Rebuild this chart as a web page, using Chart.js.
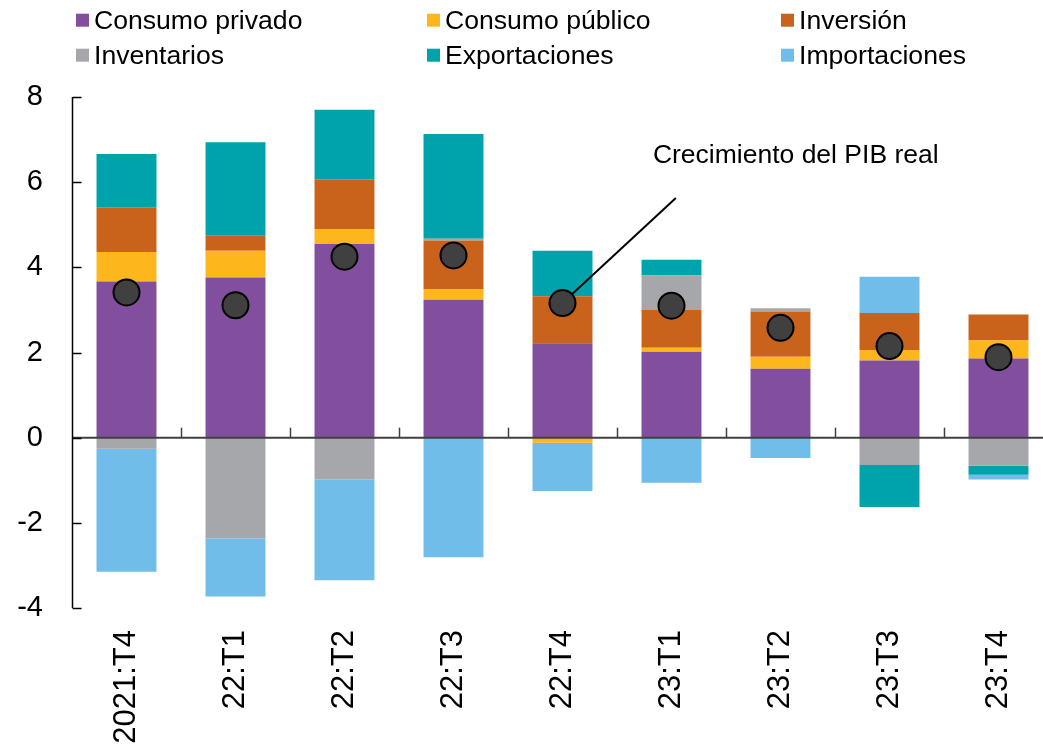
<!DOCTYPE html>
<html><head><meta charset="utf-8">
<script src="https://cdn.jsdelivr.net/npm/chart.js@4/dist/chart.umd.min.js"></script>
<style>
html,body{margin:0;padding:0;background:#fff;overflow:hidden;width:1043px;height:747px;}
#wrap{position:relative;width:1068px;height:747px;}
canvas{position:absolute;left:0;top:0;}
#legend{position:absolute;left:0;top:0;width:1043px;height:80px;font-family:"Liberation Sans",Arial,sans-serif;font-size:26.6px;color:#000;}
.item{position:absolute;display:flex;align-items:center;white-space:nowrap;line-height:1;transform:translateY(-50%);}
.box{width:13px;height:13px;margin-right:5px;flex:none;}
</style></head><body>
<div id="wrap"><canvas id="c" width="1068" height="747"></canvas><div id="legend"></div></div>
<script>
// ---- data ----
const categories = ['2021:T4','22:T1','22:T2','22:T3','22:T4','23:T1','23:T2','23:T3','23:T4'];
const consumoPrivado = [3.67, 3.76, 4.55, 3.24, 2.22, 2.02, 1.62, 1.81, 1.86];
const consumoPublico = [0.69, 0.63, 0.35, 0.25, -0.12, 0.09, 0.28, 0.25, 0.42];
const inversion      = [1.05, 0.35, 1.17, 1.14, 1.10, 0.89, 1.06, 0.87, 0.61];
const inventarios    = [-0.26, -2.37, -0.98, 0.04, -0.03, 0.81, 0.08, -0.64, -0.66];
const exportaciones  = [1.25, 2.20, 1.63, 2.46, 1.07, 0.37, 0, -0.99, -0.21];
const importaciones  = [-2.89, -1.36, -2.37, -2.81, -1.10, -1.06, -0.48, 0.85, -0.11];
const pibReal        = [3.41, 3.11, 4.25, 4.28, 3.16, 3.10, 2.58, 2.15, 1.89];
const yTicks = [-4, -2, 0, 2, 4, 6, 8];
const seriesNames = ['Consumo privado','Consumo público','Inversión','Inventarios','Exportaciones','Importaciones'];
const pibLabel = 'Crecimiento del PIB real';

// ---- style ----
const FONT = "'Liberation Sans', Arial, sans-serif";
const colors = ['#824F9E','#FDB71C','#C9621A','#A6A7AA','#00A3AB','#6FBDE8'];
const annotIndex = 4;          // point the callout refers to
const annotText = [6.14, 6.62]; // text centre (category units, value units)
const annotFrom = [5.04, 5.63]; // callout line start

const seriesData = [consumoPrivado, consumoPublico, inversion, inventarios, exportaciones, importaciones];
const barSets = seriesNames.map((n, i) => ({
  type: 'bar', label: n, data: seriesData[i], backgroundColor: colors[i],
  borderWidth: 0, stack: 'comp', barPercentage: 0.55, categoryPercentage: 1.0, order: 1
}));

const decor = {
  id: 'decor',
  beforeDatasetDraw(chart, args) {
    if (args.index !== 0) return;
    const {ctx, scales: {x, y}} = chart;
    const pt = chart.getDatasetMeta(0).data[annotIndex];
    ctx.save();
    ctx.strokeStyle = '#000'; ctx.lineWidth = 2;
    ctx.beginPath();
    ctx.moveTo(x.getPixelForValue(annotFrom[0]), y.getPixelForValue(annotFrom[1]));
    ctx.lineTo(pt.x, pt.y);
    ctx.stroke();
    ctx.restore();
  },
  afterDatasetsDraw(chart) {
    const {ctx, chartArea: a, scales: {x, y}} = chart;
    ctx.save();
    const y0 = y.getPixelForValue(0);
    ctx.strokeStyle = '#404040'; ctx.lineWidth = 2;
    ctx.beginPath(); ctx.moveTo(a.left, y0); ctx.lineTo(a.right, y0); ctx.stroke();
    ctx.lineWidth = 1.5;
    for (let i = 1; i < categories.length; i++) {
      const px = Math.round(x.getPixelForValue(i - 0.5)) + 0.5;
      ctx.beginPath(); ctx.moveTo(px, y0); ctx.lineTo(px, y0 - 10); ctx.stroke();
    }
    const lx = a.left + 0.5;
    ctx.strokeStyle = '#000'; ctx.lineWidth = 1.5;
    ctx.beginPath(); ctx.moveTo(lx, y.getPixelForValue(y.max)); ctx.lineTo(lx, y.getPixelForValue(y.min)); ctx.stroke();
    y.ticks.forEach(t => {
      const py = Math.round(y.getPixelForValue(t.value)) + 0.5;
      ctx.beginPath(); ctx.moveTo(lx, py); ctx.lineTo(lx + 9, py); ctx.stroke();
    });
    ctx.restore();
  },
  afterDraw(chart) {
    const {ctx, scales: {x, y}} = chart;
    ctx.save();
    ctx.fillStyle = '#000';
    ctx.font = "26.5px " + FONT;
    ctx.textAlign = 'center'; ctx.textBaseline = 'middle';
    ctx.fillText(pibLabel, x.getPixelForValue(annotText[0]), y.getPixelForValue(annotText[1]));
    ctx.restore();
  }
};

const chart = new Chart(document.getElementById('c'), {
  data: {
    labels: categories,
    datasets: [
      { type: 'line', label: pibLabel, data: pibReal, showLine: false, stack: 'pib', order: 0,
        pointRadius: 13, pointHoverRadius: 13, pointBackgroundColor: '#404040',
        pointBorderColor: '#000', pointBorderWidth: 2 },
      ...barSets
    ]
  },
  options: {
    responsive: false, animation: false, devicePixelRatio: 1,
    layout: { padding: { top: 97, right: 0, left: 0, bottom: 0 } },
    plugins: { legend: { display: false }, tooltip: { enabled: false } },
    scales: {
      x: {
        stacked: true, offset: true,
        grid: { display: false, drawTicks: false }, border: { display: false },
        ticks: { color: '#000', font: { family: FONT, size: 31 }, maxRotation: 90, minRotation: 90, padding: 22, autoSkip: false },
        afterFit(s) { s.height = 139; }
      },
      y: {
        stacked: true, min: -4, max: 8,
        afterBuildTicks(s) { s.ticks = yTicks.map(v => ({ value: v })); },
        grid: { display: false, drawTicks: false }, border: { display: false },
        ticks: { color: '#000', font: { family: FONT, size: 29 }, padding: 29 },
        afterFit(s) { s.width = 72; }
      }
    }
  },
  plugins: [decor]
});

const legend = document.getElementById('legend');
const colX = [76, 427, 781], rowY = [20, 55];
barSets.forEach((d, i) => {
  const it = document.createElement('div');
  it.className = 'item';
  it.style.left = colX[i % 3] + 'px';
  it.style.top = rowY[Math.floor(i / 3)] + 'px';
  const b = document.createElement('span'); b.className = 'box'; b.style.background = d.backgroundColor;
  const t = document.createElement('span'); t.textContent = d.label;
  it.appendChild(b); it.appendChild(t);
  legend.appendChild(it);
});
</script>
</body></html>
